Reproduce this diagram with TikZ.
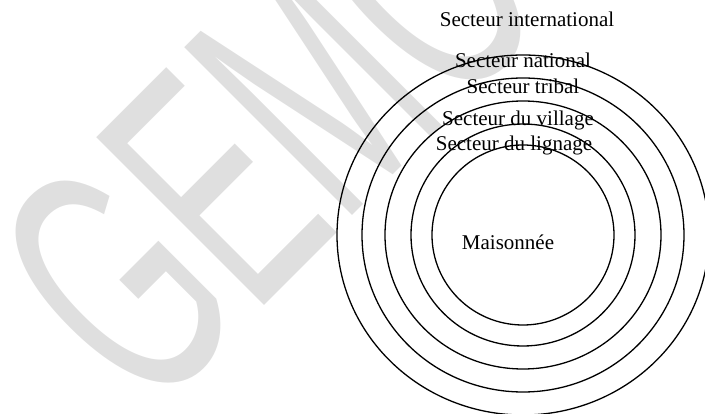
\documentclass[tikz,border=0pt]{standalone}
\usepackage{fontspec}
\setmainfont{Liberation Serif}
\newfontfamily\wmfont{Liberation Sans}
\definecolor{wm}{HTML}{DFDFDF}
\begin{document}
\begin{tikzpicture}[x=1pt,y=-1pt,
 ring/.style={draw=black,line width=1.3pt},
 lbl/.style={anchor=base,inner sep=0pt,font=\fontsize{21}{25}\selectfont},
 wmark/.style={text=wm,font=\wmfont\fontsize{345}{345}\selectfont,inner sep=0pt,rotate=45,xscale=0.55}]
\useasboundingbox (0,0) rectangle (705,414);
\clip (0,0) rectangle (705,414);
\node[wmark] (wg) at (117,283) {G};
\node[wmark] (we) at (214,188) {E};
\node[wmark] (wmm) at (313,87) {M};
\node[wmark] (wo) at (421,-21) {O};
\coordinate (c) at (523,235);
\draw[ring] (c) ellipse [x radius=91pt,y radius=90pt];
\draw[ring] (c) ellipse [x radius=112pt,y radius=111pt];
\draw[ring] (c) ellipse [x radius=138pt,y radius=134pt];
\draw[ring] (c) ellipse [x radius=161pt,y radius=157pt];
\draw[ring] (c) ellipse [x radius=186pt,y radius=180pt];
\node[lbl] (intl) at (527,27) {Secteur international};
\node[lbl] (natl) at (523,68) {Secteur national};
\node[lbl] (trib) at (523,94) {Secteur tribal};
\node[lbl] (vill) at (518,126) {Secteur du village};
\node[lbl] (lign) at (514,151) {Secteur du lignage};
\node[lbl] (mais) at (508,250) {Maisonnée};
\end{tikzpicture}
\end{document}
